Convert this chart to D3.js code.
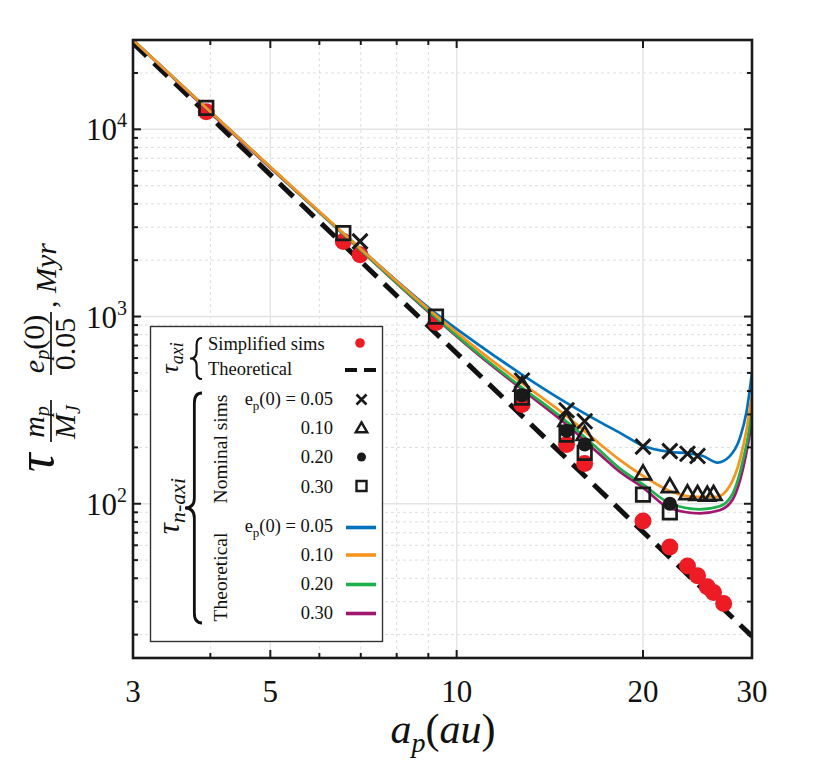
<!DOCTYPE html>
<html>
<head>
<meta charset="utf-8">
<script src="https://cdn.jsdelivr.net/npm/d3@7"></script>
<style>
body { margin: 0; background: #fff; }
text { font-family: "Liberation Serif", "DejaVu Serif", serif; fill: #111; }
</style>
</head>
<body>
<script>
// ---- data ----
// simplified sims (red dots)
const simpA = [3.94, 6.56, 6.98, 9.26, 12.75, 15.05, 16.1, 20.0, 22.1, 23.6, 24.5, 25.4, 26.0, 27.0];
const simpT = [12400, 2520, 2140, 929, 339, 207, 164, 80.9, 58.8, 46.5, 41.2, 36.0, 33.6, 29.3];
// tau_axi theoretical (straight line in log-log)
const theoA = [3, 30];
const theoT = [28900, 19.6];

// nominal sims
const e05A = [6.98, 12.75, 15.05, 16.1, 20.0, 22.1, 23.6, 24.5];
const e05T = [2520, 455, 316, 276, 202, 191, 185, 180];
const e10A = [12.75, 15.05, 16.1, 20.0, 22.1, 23.6, 24.5, 25.4, 26.0];
const e10T = [425, 276, 232, 143, 122, 112, 111, 110, 111];
const e20A = [12.75, 15.05, 16.1, 22.1];
const e20T = [380, 245, 207, 100];
const e30A = [3.94, 6.56, 9.26, 12.75, 15.05, 16.1, 20.0, 22.1];
const e30T = [13010, 2790, 1000, 369, 234, 187, 112, 90];

// tau_n-axi theoretical curves
const c05A = [3, 3.94, 6.6, 9.26, 10.9, 12.75, 15.05, 17.05, 18.36, 20.0, 22.1, 23.6, 25.0, 26.4, 27.6, 28.7, 29.4, 30];
const c05T = [30000, 13010, 2735, 1037, 700, 490, 346, 273, 239, 204, 189, 186, 180, 166, 179, 226, 311, 502];
const c10A = [3, 3.94, 6.6, 9.26, 10.9, 12.75, 15.05, 17.05, 18.36, 20.0, 22.1, 24.1, 26.3, 27.6, 28.7, 29.4, 30];
const c10T = [30000, 13010, 2735, 1012, 654, 441, 294, 208, 171, 141, 117, 109, 109, 124, 173, 249, 383];
const c20A = [3, 3.94, 6.6, 9.26, 10.9, 12.75, 15.05, 17.05, 18.36, 20.0, 22.1, 24.7, 26.6, 27.95, 29.0, 29.67, 30];
const c20T = [30000, 13010, 2702, 987, 625, 418, 275, 192, 154, 127, 100.5, 93.4, 96.9, 114, 170, 249, 348];
const c30A = [3, 3.94, 6.6, 9.26, 10.9, 12.75, 15.05, 17.05, 18.36, 20.0, 22.1, 24.7, 26.6, 27.95, 29.0, 29.55, 30];
const c30T = [30000, 12850, 2702, 975, 615, 408, 265, 183, 148, 122, 94.6, 88.9, 92.3, 106, 153, 207, 282];

const xTicks = [3, 5, 10, 20, 30];
const yTicks = [100, 1000, 10000];

const cBlue = "#0072BD", cOrange = "#F7941D", cGreen = "#1DB14B", cPurple = "#A3166F", cRed = "#ED1C24";

// ---- layout ----
const W = 830, H = 765;
const L = 133, R = 752, T = 40, B = 658;

const x = d3.scaleLog().domain([3, 30]).range([L, R]);
const y = d3.scaleLog().domain([15, 30000]).range([B, T]);

const svg = d3.select("body").append("svg").attr("width", W).attr("height", H);

svg.append("defs").append("clipPath").attr("id", "clip")
  .append("rect").attr("x", L).attr("y", T).attr("width", R - L).attr("height", B - T);

// grid
const xMinor = [4, 6, 7, 8, 9];
const xMajor = [5, 10, 20];
const yMajor = [100, 1000, 10000];
const yMinor = [];
[10, 100, 1000, 10000].forEach(d => { for (let k = 2; k <= 9; k++) { const v = d * k; if (v > 15 && v < 30000) yMinor.push(v); } });

const grid = svg.append("g");
grid.selectAll(".gxm").data(xMinor).enter().append("line")
  .attr("x1", d => x(d)).attr("x2", d => x(d)).attr("y1", T).attr("y2", B)
  .attr("stroke", "#dedede").attr("stroke-width", 1).attr("stroke-dasharray", "3,3");
grid.selectAll(".gym").data(yMinor).enter().append("line")
  .attr("x1", L).attr("x2", R).attr("y1", d => y(d)).attr("y2", d => y(d))
  .attr("stroke", "#dedede").attr("stroke-width", 1).attr("stroke-dasharray", "3,3");
grid.selectAll(".gxM").data(xMajor).enter().append("line")
  .attr("x1", d => x(d)).attr("x2", d => x(d)).attr("y1", T).attr("y2", B)
  .attr("stroke", "#e4e4e4").attr("stroke-width", 1.4);
grid.selectAll(".gyM").data(yMajor).enter().append("line")
  .attr("x1", L).attr("x2", R).attr("y1", d => y(d)).attr("y2", d => y(d))
  .attr("stroke", "#e4e4e4").attr("stroke-width", 1.4);

const plot = svg.append("g").attr("clip-path", "url(#clip)");
const line = d3.line().x(d => x(d[0])).y(d => y(d[1])).curve(d3.curveMonotoneX);
const zip = (a, b) => a.map((v, i) => [v, b[i]]);

// theoretical tau_axi
plot.append("path").datum(zip(theoA, theoT)).attr("d", d3.line().x(d => x(d[0])).y(d => y(d[1])))
  .attr("fill", "none").attr("stroke", "#111").attr("stroke-width", 5).attr("stroke-dasharray", "19,10");

// simplified sims
plot.selectAll(".simp").data(zip(simpA, simpT)).enter().append("circle")
  .attr("cx", d => x(d[0])).attr("cy", d => y(d[1])).attr("r", 8.5).attr("fill", cRed);

// theoretical tau_n-axi
[[c30A, c30T, cPurple], [c20A, c20T, cGreen], [c05A, c05T, cBlue], [c10A, c10T, cOrange]].forEach(s => {
  plot.append("path").datum(zip(s[0], s[1])).attr("d", line)
    .attr("fill", "none").attr("stroke", s[2]).attr("stroke-width", 2.7);
});

// marker shapes
function crossPath(s) { return `M${-s},${-s}L${s},${s}M${-s},${s}L${s},${-s}`; }
function triPath(s) { const h = s * Math.sqrt(3) / 2; return `M0,${-h * 2 / 3}L${s / 2},${h / 3}L${-s / 2},${h / 3}Z`; }
function sqPath(s) { return `M${-s / 2},${-s / 2}h${s}v${s}h${-s}Z`; }

const mk = svg.append("g");
mk.selectAll(".m05").data(zip(e05A, e05T)).enter().append("path")
  .attr("transform", d => `translate(${x(d[0])},${y(d[1])})`).attr("d", crossPath(7.5))
  .attr("fill", "none").attr("stroke", "#1a1a1a").attr("stroke-width", 3);
mk.selectAll(".m10").data(zip(e10A, e10T)).enter().append("path")
  .attr("transform", d => `translate(${x(d[0])},${y(d[1])})`).attr("d", triPath(16))
  .attr("fill", "none").attr("stroke", "#1a1a1a").attr("stroke-width", 2.7);
mk.selectAll(".m20").data(zip(e20A, e20T)).enter().append("circle")
  .attr("cx", d => x(d[0])).attr("cy", d => y(d[1])).attr("r", 7).attr("fill", "#1a1a1a");
mk.selectAll(".m30").data(zip(e30A, e30T)).enter().append("path")
  .attr("transform", d => `translate(${x(d[0])},${y(d[1])})`).attr("d", sqPath(13.5))
  .attr("fill", "none").attr("stroke", "#1a1a1a").attr("stroke-width", 2.7);

// axes box + ticks
const ax = svg.append("g").attr("stroke", "#1a1a1a");
const xtAll = [4, 5, 6, 7, 8, 9, 10, 20];
xtAll.forEach(v => {
  const len = xMajor.includes(v) ? 8 : 5;
  ax.append("line").attr("x1", x(v)).attr("x2", x(v)).attr("y1", B).attr("y2", B - len).attr("stroke-width", 2);
  ax.append("line").attr("x1", x(v)).attr("x2", x(v)).attr("y1", T).attr("y2", T + len).attr("stroke-width", 2);
});
yMajor.concat(yMinor).forEach(v => {
  const len = yMajor.includes(v) ? 8 : 5;
  ax.append("line").attr("x1", L).attr("x2", L + len).attr("y1", y(v)).attr("y2", y(v)).attr("stroke-width", 2);
  ax.append("line").attr("x1", R).attr("x2", R - len).attr("y1", y(v)).attr("y2", y(v)).attr("stroke-width", 2);
});
ax.append("rect").attr("x", L).attr("y", T).attr("width", R - L).attr("height", B - T)
  .attr("fill", "none").attr("stroke-width", 2.6);

// tick labels
svg.selectAll(".xl").data(xTicks).enter().append("text")
  .attr("x", d => x(d)).attr("y", 702).attr("text-anchor", "middle")
  .attr("font-size", 31).text(d => d);
yTicks.forEach(v => {
  const t = svg.append("text").attr("x", 127).attr("y", y(v) + 11).attr("text-anchor", "end").attr("font-size", 31);
  t.append("tspan").text("10");
  t.append("tspan").attr("font-size", 20).attr("dy", -13).text(Math.round(Math.log10(v)));
});

// x label
const xl = svg.append("text").attr("x", 443).attr("y", 743).attr("text-anchor", "middle")
  .attr("font-size", 42).attr("font-style", "italic");
xl.append("tspan").text("a");
xl.append("tspan").attr("font-size", 28).attr("dy", 9).text("p");
xl.append("tspan").attr("dy", -9).attr("font-style", "normal").text("(");
xl.append("tspan").text("au");
xl.append("tspan").attr("font-style", "normal").text(")");

// y label (rotated math expression)
const yl = svg.append("g").attr("transform", "translate(53,472) rotate(-90)");
yl.append("text").attr("x", 0).attr("y", 0).attr("font-size", 52).attr("font-style", "italic").text("τ");
function frac(g, cx, num, den) {
  const n = g.append("text").attr("x", cx).attr("y", -9).attr("text-anchor", "middle").attr("font-size", 30).attr("font-style", "italic");
  num(n);
  const d = g.append("text").attr("x", cx).attr("y", 22).attr("text-anchor", "middle").attr("font-size", 30).attr("font-style", "italic");
  den(d);
}
frac(yl, 50, n => { n.append("tspan").text("m"); n.append("tspan").attr("font-size", 20).attr("dy", 5).text("p"); },
  d => { d.append("tspan").text("M"); d.append("tspan").attr("font-size", 20).attr("dy", 5).text("J"); });
yl.append("line").attr("x1", 30).attr("x2", 72).attr("y1", -2).attr("y2", -2).attr("stroke", "#111").attr("stroke-width", 1.7);
frac(yl, 128, n => { n.append("tspan").text("e"); n.append("tspan").attr("font-size", 20).attr("dy", 5).text("p");
    n.append("tspan").attr("dy", -5).attr("font-style", "normal").text("(0)"); },
  d => { d.attr("font-style", "normal").text("0.05"); });
yl.append("line").attr("x1", 97).attr("x2", 160).attr("y1", -2).attr("y2", -2).attr("stroke", "#111").attr("stroke-width", 1.7);
const my = yl.append("text").attr("x", 164).attr("y", 3).attr("font-size", 30);
my.append("tspan").text(", ");
my.append("tspan").attr("font-style", "italic").text("Myr");

// ---- legend ----
const lg = svg.append("g");
lg.append("rect").attr("x", 150.5).attr("y", 326.5).attr("width", 232).attr("height", 315)
  .attr("fill", "#fff").attr("stroke", "#333").attr("stroke-width", 1.4);

function brace(x0, y1, y2, w) {
  const xm = x0 + w * 0.55, xr = x0 + w, ym = (y1 + y2) / 2, r = Math.min(10, (y2 - y1) / 6);
  return `M${xr},${y1} Q${xm},${y1} ${xm},${y1 + r} L${xm},${ym - r} Q${xm},${ym} ${x0},${ym}` +
    ` Q${xm},${ym} ${xm},${ym + r} L${xm},${y2 - r} Q${xm},${y2} ${xr},${y2}`;
}
lg.append("path").attr("d", brace(190, 338, 379, 12)).attr("fill", "none").attr("stroke", "#111").attr("stroke-width", 2.2);
lg.append("path").attr("d", brace(185, 393, 623, 17)).attr("fill", "none").attr("stroke", "#111").attr("stroke-width", 2.8);

const ta = lg.append("text").attr("transform", "translate(178,358) rotate(-90)").attr("text-anchor", "middle")
  .attr("font-size", 26).attr("font-style", "italic");
ta.append("tspan").text("τ");
ta.append("tspan").attr("font-size", 18).attr("dy", 5).text("axi");
const tn = lg.append("text").attr("transform", "translate(179,506) rotate(-90)").attr("text-anchor", "middle")
  .attr("font-size", 31).attr("font-style", "italic");
tn.append("tspan").text("τ");
tn.append("tspan").attr("font-size", 22).attr("dy", 6).text("n-axi");

lg.append("text").attr("x", 208).attr("y", 349.5).attr("font-size", 18.5).text("Simplified sims");
lg.append("text").attr("x", 208).attr("y", 374.5).attr("font-size", 18.5).text("Theoretical");
lg.append("circle").attr("cx", 360).attr("cy", 343).attr("r", 4.8).attr("fill", cRed);
lg.append("line").attr("x1", 345).attr("x2", 376).attr("y1", 370).attr("y2", 370)
  .attr("stroke", "#111").attr("stroke-width", 4).attr("stroke-dasharray", "12,7");

lg.append("text").attr("transform", "translate(227,449) rotate(-90)").attr("text-anchor", "middle").attr("font-size", 19.5).text("Nominal sims");
lg.append("text").attr("transform", "translate(227,577) rotate(-90)").attr("text-anchor", "middle").attr("font-size", 19.5).text("Theoretical");

const levels = ["0.05", "0.10", "0.20", "0.30"];
function levelLabel(yb, lab, first) {
  const t = lg.append("text").attr("x", 333).attr("y", yb).attr("text-anchor", "end").attr("font-size", 18.5);
  if (first) {
    t.append("tspan").text("e");
    t.append("tspan").attr("font-size", 13).attr("dy", 5).text("p");
    t.append("tspan").attr("dy", -5).text("(0) = " + lab);
  } else t.text(lab);
}
const nomY = [405, 434, 463, 492.5];
levels.forEach((lab, i) => levelLabel(nomY[i], lab, i === 0));
const theY = [532, 560.5, 589.5, 618.5];
levels.forEach((lab, i) => levelLabel(theY[i], lab, i === 0));

const mx = 361.5;
lg.append("path").attr("transform", `translate(${mx},399.5)`).attr("d", crossPath(5))
  .attr("fill", "none").attr("stroke", "#1a1a1a").attr("stroke-width", 2.6);
lg.append("path").attr("transform", `translate(${mx},429)`).attr("d", triPath(11.5))
  .attr("fill", "none").attr("stroke", "#1a1a1a").attr("stroke-width", 2.4);
lg.append("circle").attr("cx", mx).attr("cy", 457).attr("r", 4.5).attr("fill", "#1a1a1a");
lg.append("path").attr("transform", `translate(${mx},486)`).attr("d", sqPath(10))
  .attr("fill", "none").attr("stroke", "#1a1a1a").attr("stroke-width", 2.4);

const lineCols = [cBlue, cOrange, cGreen, cPurple];
const lineY = [527.5, 555, 584.5, 613.5];
lineCols.forEach((c, i) => {
  lg.append("line").attr("x1", 346).attr("x2", 376).attr("y1", lineY[i]).attr("y2", lineY[i])
    .attr("stroke", c).attr("stroke-width", 3.6);
});
</script>
</body>
</html>
